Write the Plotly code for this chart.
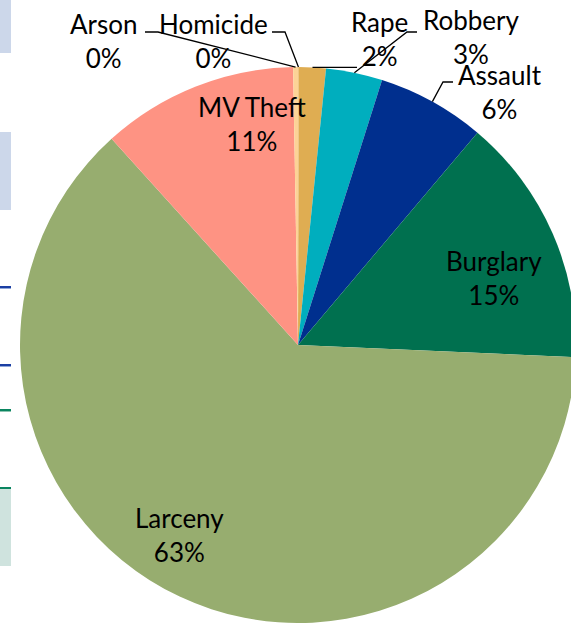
import math
import plotly.graph_objects as go

# ---- data (clockwise from 12 o'clock) ----
categories = ["Homicide", "Rape", "Robbery", "Assault", "Burglary", "Larceny", "MV Theft", "Arson"]
shares = [0.05, 1.56, 3.28, 6.28, 14.53, 62.61, 11.42, 0.28]
colors = ["#F0C27C", "#DFAD52", "#00AEBE", "#002F8E", "#00704F", "#97AD6F", "#FE9383", "#FCD397"]

# ---- layout geometry (pixels) ----
W, H = 600, 623
CX, CY, R = 298, 345, 278
FONT = "Lato"
FS = 26


def fx(x):
    return x / W


def fy(y):
    return 1 - y / H


total = sum(shares)
pcts = [f"{round(v / total * 100):.0f}%" for v in shares]

# mid angle of each slice (degrees clockwise from top), from the data
mids = []
acc = 0.0
for v in shares:
    mids.append((acc + v / 2) / total * 360)
    acc += v


def edge(i):
    a = math.radians(mids[i])
    return CX + R * math.sin(a), CY - R * math.cos(a)


fig = go.Figure()
fig.add_trace(go.Pie(
    labels=categories,
    values=shares,
    sort=False,
    direction="clockwise",
    rotation=0,
    marker=dict(colors=colors, line=dict(width=0)),
    textinfo="none",
    hoverinfo="label+percent",
    showlegend=False,
    domain=dict(x=[fx(CX - R), fx(CX + R)], y=[fy(CY + R), fy(CY - R)]),
))

# label centres (pixels) and leader-line elbows for outside labels
label_pos = {
    "Arson": (103, 41),
    "Homicide": (213, 41),
    "Rape": (379, 39),
    "Robbery": (471, 37),
    "Assault": (500, 92),
    "MV Theft": (252, 124),
    "Burglary": (494, 278),
    "Larceny": (179, 535),
}
leaders = {
    "Arson": [(145, 32), (158, 32)],
    "Homicide": [(272, 32), (285, 32)],
    "Rape": [(357, 68)],
    "Robbery": [(417, 32), (407, 32)],
    "Assault": [(453, 82), (443, 82)],
}

annotations = []
for i, name in enumerate(categories):
    x, y = label_pos[name]
    annotations.append(dict(
        x=fx(x), y=fy(y), xref="paper", yref="paper",
        text=f"{name}<br>{pcts[i]}", showarrow=False,
        xanchor="center", yanchor="middle", align="center",
        font=dict(family=FONT, size=FS, color="#000000"),
    ))

shapes = []
for i, name in enumerate(categories):
    if name not in leaders:
        continue
    pts = leaders[name] + [edge(i)]
    if name == "Rape":
        ex, ey = edge(i)
        pts = [(leaders[name][0][0], ey), (ex, ey)]
    path = "M " + " L ".join(f"{fx(px)},{fy(py)}" for px, py in pts)
    shapes.append(dict(type="path", path=path, xref="paper", yref="paper",
                       line=dict(color="#000000", width=1.3)))

# slide fragments on the left edge
def band(y0, y1, color):
    shapes.append(dict(type="rect", xref="paper", yref="paper",
                       x0=0, x1=fx(11), y0=fy(y1), y1=fy(y0),
                       fillcolor=color, line=dict(width=0), layer="below"))

band(0, 53, "#CCD7EA")
band(132, 210, "#CCD7EA")
band(286, 288, "#1B3FA3")
band(288, 289, "#90A7D9")
band(364, 366, "#1B3FA3")
band(366, 367, "#90A7D9")
band(409, 411, "#0A8560")
band(411, 412, "#8CC4B0")
band(487, 489, "#0A8560")
band(489, 566, "#CFE3DE")

fig.update_layout(
    width=W, height=H,
    margin=dict(l=0, r=0, t=0, b=0),
    paper_bgcolor="#FFFFFF",
    plot_bgcolor="#FFFFFF",
    annotations=annotations,
    shapes=shapes,
)

fig.write_html("out.html")
